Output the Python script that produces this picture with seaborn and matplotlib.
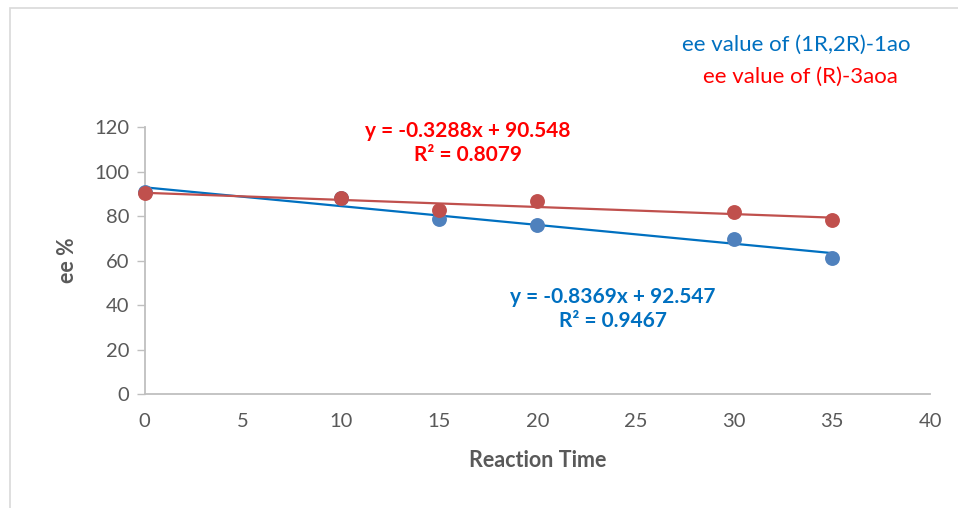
import matplotlib
matplotlib.use("Agg")
import matplotlib.pyplot as plt
import numpy as np
import pandas as pd
import seaborn as sns
from matplotlib.patches import Rectangle

# data
reaction_time = [0, 10, 15, 20, 30, 35]
ee_1ao = [91, 88, 78.5, 76, 69.7, 61.2]
ee_3aoa = [90.3, 88.2, 82.5, 86.7, 81.6, 78.2]

blue_label = "ee value of (1R,2R)-1ao"
red_label = "ee value of (R)-3aoa"
blue_eq = "y = -0.8369x + 92.547\nR² = 0.9467"
red_eq = "y = -0.3288x + 90.548\nR² = 0.8079"

x_ticks = [0, 5, 10, 15, 20, 25, 30, 35, 40]
y_ticks = [0, 20, 40, 60, 80, 100, 120]

sns.set_theme(style="white")
plt.rcParams["font.family"] = ["Lato", "DejaVu Sans"]

df = pd.DataFrame({"time": reaction_time, "ee_1ao": ee_1ao, "ee_3aoa": ee_3aoa})

fig = plt.figure(figsize=(9.58, 5.08), dpi=100)
ax = fig.add_axes([0.151, 0.2244, 0.82, 0.5256])

# outer chart border
fig.patches.append(Rectangle((10 / 958, -0.01), 1.0, 1 - 8 / 508 + 0.01, transform=fig.transFigure,
                             fill=False, edgecolor="#d9d9d9", linewidth=1.2))

sns.regplot(data=df, x="time", y="ee_1ao", ci=None, ax=ax,
            scatter_kws={"s": 115, "color": "#4f81bd", "alpha": 1, "zorder": 3,
                         "linewidths": 0, "clip_on": False},
            line_kws={"color": "#0070c0", "linewidth": 1.6, "zorder": 2})
sns.regplot(data=df, x="time", y="ee_3aoa", ci=None, ax=ax,
            scatter_kws={"s": 115, "color": "#c0504d", "alpha": 1, "zorder": 4,
                         "linewidths": 0, "clip_on": False},
            line_kws={"color": "#c0504d", "linewidth": 1.6, "zorder": 2})

ax.set_xlim(0, 40)
ax.set_ylim(0, 120)
ax.set_xticks(x_ticks)
ax.set_yticks(y_ticks)
ax.tick_params(axis="both", labelsize=14.5, colors="#595959")
ax.tick_params(axis="y", length=6, width=1, color="#bfbfbf", direction="out", left=True, pad=5)
ax.tick_params(axis="x", length=0, pad=14)
for side in ["top", "right"]:
    ax.spines[side].set_visible(False)
for side in ["left", "bottom"]:
    ax.spines[side].set_color("#bfbfbf")
    ax.spines[side].set_linewidth(1.3)
ax.set_xlabel("Reaction Time", fontsize=15.5, fontweight="bold", color="#595959", labelpad=14)
ax.set_ylabel("ee %", fontsize=15.5, fontweight="bold", color="#595959", labelpad=12)
ax.grid(False)

# trendline equations
fig.text(468 / 958, 1 - 143 / 508, red_eq, ha="center", va="center", fontsize=15,
         fontweight="bold", color="#ff0000", linespacing=1.3)
fig.text(613 / 958, 1 - 309 / 508, blue_eq, ha="center", va="center", fontsize=15,
         fontweight="bold", color="#0070c0", linespacing=1.3)

# series labels
fig.text(796 / 958, 1 - 45 / 508, blue_label, ha="center", va="center", fontsize=16, color="#0070c0")
fig.text(800 / 958, 1 - 77 / 508, red_label, ha="center", va="center", fontsize=16, color="#ff0000")

fig.savefig("out.png", dpi=100)
